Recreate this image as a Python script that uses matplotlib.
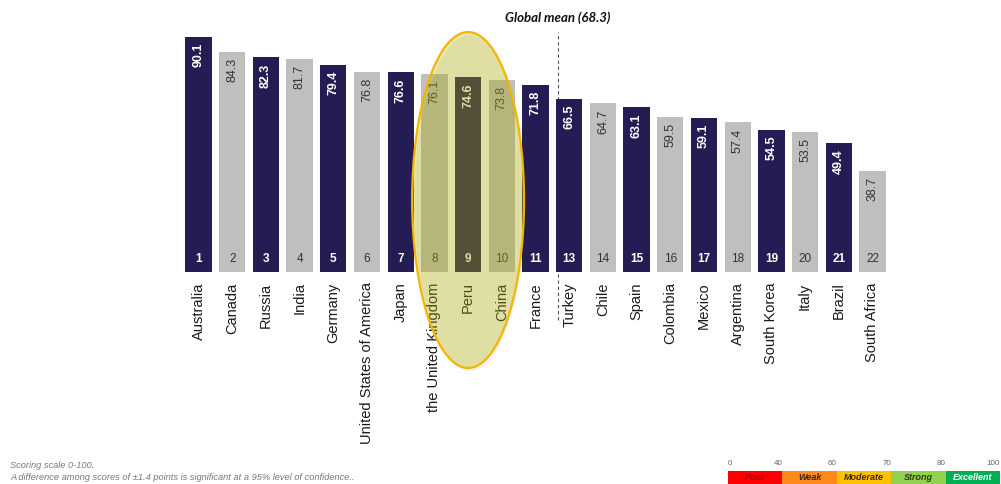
import numpy as np
import matplotlib.pyplot as plt
from matplotlib.patches import Ellipse, Rectangle

plt.rcParams['font.family'] = ['Liberation Sans', 'DejaVu Sans']

# Country scores, ordered by rank (rank 12 is taken by the global mean)
countries = ["Australia", "Canada", "Russia", "India", "Germany",
             "United States of America", "Japan", "the United Kingdom", "Peru",
             "China", "France", "Turkey", "Chile", "Spain", "Colombia", "Mexico",
             "Argentina", "South Korea", "Italy", "Brazil", "South Africa"]
scores = [90.1, 84.3, 82.3, 81.7, 79.4, 76.8, 76.6, 76.1, 74.6, 73.8, 71.8,
          66.5, 64.7, 63.1, 59.5, 59.1, 57.4, 54.5, 53.5, 49.4, 38.7]
ranks = [1, 2, 3, 4, 5, 6, 7, 8, 9, 10, 11,
         13, 14, 15, 16, 17, 18, 19, 20, 21, 22]
global_mean = 68.3
highlight = "Peru"

# Rating scale shown in the corner
band_labels = ["Poor", "Weak", "Moderate", "Strong", "Excellent"]
band_edges = [0, 40, 60, 70, 80, 100]
band_colors = ["#FF0000", "#FF8A1C", "#FFC000", "#92D050", "#00B050"]
band_text_colors = ["#B00000", "#3A2A10", "#3A2A10", "#2A3A18", "white"]

NAVY = "#241C52"
GREY = "#BFBFBF"

W, H = 1001, 484
fig = plt.figure(figsize=(W / 100, H / 100), dpi=100)
ax = fig.add_axes([0, 0, 1, 1])

# map pixel layout: first bar centre, bar pitch, baseline and vertical scale
x0_px, pitch_px = 198.5, 33.7
base_px, unit_px = 272, 2.608
ax.set_xlim(-x0_px / pitch_px, (W - x0_px) / pitch_px)
ax.set_ylim(-(H - base_px) / unit_px, base_px / unit_px)
ax.axis("off")

x = np.arange(len(countries))
colors = [NAVY if r % 2 else GREY for r in ranks]
ax.bar(x, scores, width=0.78, color=colors, zorder=2)

for xi, s, r, c, name in zip(x, scores, ranks, colors, countries):
    dark = c == NAVY
    ax.text(xi, s - 2.3, f"{s:.1f}", rotation=90, ha="center", va="top",
            fontsize=9, color="white" if dark else "#333333",
            fontweight="bold" if dark else "normal", zorder=3)
    ax.text(xi, 4.8, str(r), ha="center", va="center", fontsize=8.5,
            color="white" if dark else "#333333",
            fontweight="bold" if dark else "normal", zorder=3)
    ax.text(xi, -4.0, name, rotation=90, ha="center", va="top",
            fontsize=10.5, color="#1A1A1A", zorder=3)

# global mean marker, placed between the two countries that straddle it
above = max(i for i, s in enumerate(scores) if s >= global_mean)
mx = above + (scores[above] - global_mean) / (scores[above] - scores[above + 1])
ax.plot([mx, mx], [-18.4, 92], color="#555555", lw=0.8,
        ls=(0, (3, 2.5)), zorder=1)
ax.text(mx, 97.6, f"Global mean ({global_mean})", ha="center", va="center",
        fontsize=9.5, fontstyle="italic", fontweight="bold", color="#111111",
        family=["Lato", "DejaVu Sans"])

# highlight ellipse around the focus country
hi = countries.index(highlight)
shadow = Ellipse((hi + 0.06, 26.4), 3.32, 128.8, facecolor="#000000",
                 alpha=0.06, edgecolor="none", zorder=4)
ax.add_patch(shadow)
ell = Ellipse((hi, 27.6), 3.32, 128.8, facecolor=(190 / 255, 190 / 255, 10 / 255),
              alpha=0.33, edgecolor="none", zorder=5)
ax.add_patch(ell)
ax.add_patch(Ellipse((hi, 27.6), 3.32, 128.8, facecolor="none",
                     edgecolor="#F5B400", lw=1.6, zorder=6))

# footnote
fig.text(10 / W, 1 - 466 / H, "Scoring scale 0-100.", fontsize=6.7,
         fontstyle="italic", color="#777777", va="center")
fig.text(10 / W, 1 - 478 / H,
         "A difference among scores of \u00b11.4 points is significant at a 95% level of confidence..",
         fontsize=6.7, fontstyle="italic", color="#777777", va="center")

# rating scale bar
lax = fig.add_axes([728 / W, 0, 272 / W, 13 / H])
lax.set_xlim(0, len(band_labels))
lax.set_ylim(0, 1)
lax.axis("off")
for i, (lab, col, tcol) in enumerate(zip(band_labels, band_colors, band_text_colors)):
    lax.add_patch(Rectangle((i, 0), 1, 1, facecolor=col, edgecolor="none"))
    lax.text(i + 0.5, 0.5, lab, ha="center", va="center", fontsize=6.5,
             fontstyle="italic", fontweight="bold", color=tcol)
for i, edge in enumerate(band_edges):
    lax.text(i, 1.6, str(edge), ha="left" if i == 0 else "right",
             va="center", fontsize=5.8, color="#666666", clip_on=False)

fig.savefig("out.png", dpi=100)
